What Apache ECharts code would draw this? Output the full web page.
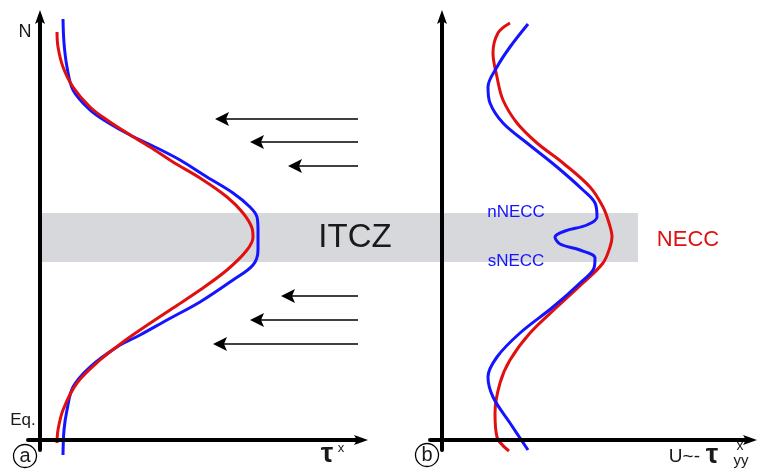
<!DOCTYPE html>
<html>
<head>
<meta charset="utf-8">
<script src="https://cdn.jsdelivr.net/npm/echarts@6/dist/echarts.min.js"></script>
<style>
  html, body { margin: 0; padding: 0; background: #ffffff; }
  #chart { width: 759px; height: 469px; }
</style>
</head>
<body>
<div id="chart"></div>
<script>
// Schematic: (a) zonal wind stress tau^x vs latitude, (b) zonal current U ~ -tau^x_yy.
// Coordinates are [x, latitude]; the Equator is latitude 0.

// Panel a: wind stress profiles
const stressRed = [
  [1.7, 40.8], [1.8, 39.3], [2.3, 37.3], [3.3, 35.3], [5.0, 33.3], [6.7, 32.0],
  [8.7, 30.7], [11.0, 29.3], [13.3, 27.8], [16.0, 26.2], [18.7, 24.3], [20.3, 22.7],
  [21.2, 21.2], [21.3, 20.3], [20.7, 19.0], [18.7, 17.0], [16.0, 15.0], [13.3, 13.2],
  [10.0, 11.0], [8.3, 9.8], [6.0, 8.0], [3.7, 5.7], [2.3, 3.0], [1.8, 1.0], [1.7, -0.3]
];
const stressBlue = [
  [2.3, 42.1], [2.4, 39.7], [2.7, 37.3], [3.3, 35.0], [5.0, 33.0], [6.7, 31.8],
  [9.0, 30.5], [11.7, 29.2], [14.0, 28.0], [16.7, 26.3], [19.3, 24.7], [21.0, 23.3],
  [21.7, 22.3], [21.8, 21.0], [21.8, 19.0], [21.3, 17.5], [19.3, 16.0], [16.0, 13.8],
  [12.7, 12.0], [10.0, 10.5], [7.7, 9.3], [5.0, 7.3], [3.3, 5.3], [2.7, 3.0],
  [2.4, 1.0], [2.3, -1.5]
];

// Trade-wind arrows: [start x, end x, latitude]
const windArrows = [
  [31.8, 18.2, 32.1], [31.8, 21.7, 29.8], [31.8, 25.5, 27.4],
  [31.8, 24.8, 14.4], [31.8, 21.7, 12.0], [31.8, 18.0, 9.6]
];

// Panel b: current profiles
const currentRed = [
  [6.8, 41.7], [5.6, 40.7], [5.1, 38.7], [5.5, 36.3], [6.1, 34.0], [7.5, 31.7],
  [9.5, 29.7], [12.1, 27.7], [14.8, 25.3], [16.1, 23.3], [16.7, 21.7], [17.0, 20.3],
  [16.8, 19.3], [16.1, 17.7], [14.1, 15.7], [11.5, 13.3], [8.8, 10.7], [6.8, 8.0],
  [5.8, 5.7], [5.3, 2.7], [5.5, 0.3], [6.7, -1.1]
];
const currentBlue = [
  [8.6, 41.6], [6.8, 39.3], [5.5, 37.3], [4.6, 35.3], [4.8, 33.7], [6.1, 31.7],
  [8.5, 29.7], [11.5, 27.3], [14.1, 25.0], [15.3, 23.7], [15.5, 22.3], [14.5, 21.5],
  [12.3, 20.9], [11.3, 20.3], [11.8, 19.6], [13.8, 19.0], [15.3, 18.2], [15.2, 17.2],
  [13.8, 15.7], [11.1, 13.3], [7.8, 10.7], [5.5, 8.3], [4.6, 6.3], [5.1, 4.3],
  [6.8, 1.7], [8.6, -1.0]
];

// ITCZ latitude band, on the full-width backdrop axis: [x0, x1, lat0, lat1]
const itczBand = [4.2, 63.8, 17.8, 22.7];

const RED = '#e01010';
const BLUE = '#1414ff';
const INK = '#1a1a1a';
const arrowHead = 'path://M5,0 L10,14 L5,11 L0,14 Z';

function panelAxis(min, max, gridIndex) {
  return {
    type: 'value', gridIndex, min, max, z: 10,
    axisLine: { show: true, onZero: true, symbol: ['none', arrowHead], symbolSize: [10, 14],
                lineStyle: { color: '#000', width: 4 } },
    axisTick: { show: false }, axisLabel: { show: false }, splitLine: { show: false }
  };
}
function hiddenAxis(min, max, gridIndex) {
  return { type: 'value', gridIndex, min, max, show: false,
           axisLine: { show: false }, splitLine: { show: false } };
}
function curve(data, color, xi, yi) {
  return {
    type: 'line', data, xAxisIndex: xi, yAxisIndex: yi, smooth: 0.35,
    showSymbol: false, clip: false, z: 5,
    lineStyle: { color, width: 3 }, emphasis: { disabled: true }
  };
}
function label(x, y, text, font, fill, align) {
  return { type: 'text', x, y, z: 50,
           style: { text, font: font + ' Arial, "Liberation Sans"', fill: fill || INK,
                    align: align || 'center', verticalAlign: 'middle' } };
}

const chart = echarts.init(document.getElementById('chart'), null, { renderer: 'canvas' });
chart.setOption({
  backgroundColor: '#ffffff',
  animation: false,
  grid: [
    { left: 28, top: 17, width: 333, height: 433 },   // panel a
    { left: 430, top: 17, width: 320, height: 433 },  // panel b
    { left: 0, top: 0, width: 759, height: 469 }      // backdrop for the ITCZ band
  ],
  xAxis: [panelAxis(-1.2, 32.1, 0), panelAxis(-1.2, 30.8, 1), hiddenAxis(0, 75.9, 2)],
  yAxis: [panelAxis(-1, 42.3, 0), panelAxis(-1, 42.3, 1), hiddenAxis(-2.9, 44, 2)],
  series: [
    {
      type: 'line', data: [], xAxisIndex: 2, yAxisIndex: 2, z: -5,
      markArea: {
        silent: true, z: -5,
        itemStyle: { color: '#d7d8dc' },
        data: [[{ coord: [itczBand[0], itczBand[3]] }, { coord: [itczBand[1], itczBand[2]] }]]
      }
    },
    curve(stressBlue, BLUE, 0, 0),
    curve(stressRed, RED, 0, 0),
    curve(currentRed, RED, 1, 1),
    curve(currentBlue, BLUE, 1, 1),
    {
      type: 'lines', coordinateSystem: 'cartesian2d', xAxisIndex: 0, yAxisIndex: 0, z: 4,
      symbol: ['none', 'path://M4,0 L8,14 L4,11 L0,14 Z'], symbolSize: 14, symbolKeepAspect: true,
      lineStyle: { color: '#000', width: 1.5, opacity: 1 },
      data: windArrows.map(a => ({ coords: [[a[0], a[2]], [a[1], a[2]]] }))
    }
  ],
  graphic: [
    label(25, 32, 'N', '18px'),
    label(23, 420, 'Eq.', '17px'),
    label(355, 238, 'ITCZ', '33px'),
    { type: 'circle', z: 50, shape: { cx: 25, cy: 456, r: 11.5 }, style: { fill: 'none', stroke: '#000', lineWidth: 1.3 } },
    label(25, 456, 'a', '20px'),
    { type: 'circle', z: 50, shape: { cx: 427, cy: 455, r: 11.5 }, style: { fill: 'none', stroke: '#000', lineWidth: 1.3 } },
    label(427, 455, 'b', '20px'),
    label(327, 454, 'τ', 'bold 28px'),
    label(341, 448, 'x', '13px'),
    label(700, 457, 'U~-', '19px', INK, 'right'),
    label(712, 455, 'τ', 'bold 28px'),
    label(740, 446, 'x', '14px'),
    label(741, 461, 'yy', '15px'),
    label(516, 212, 'nNECC', '17px', BLUE),
    label(516, 261, 'sNECC', '17px', BLUE),
    label(688, 240, 'NECC', '22px', RED)
  ]
});
</script>
</body>
</html>
